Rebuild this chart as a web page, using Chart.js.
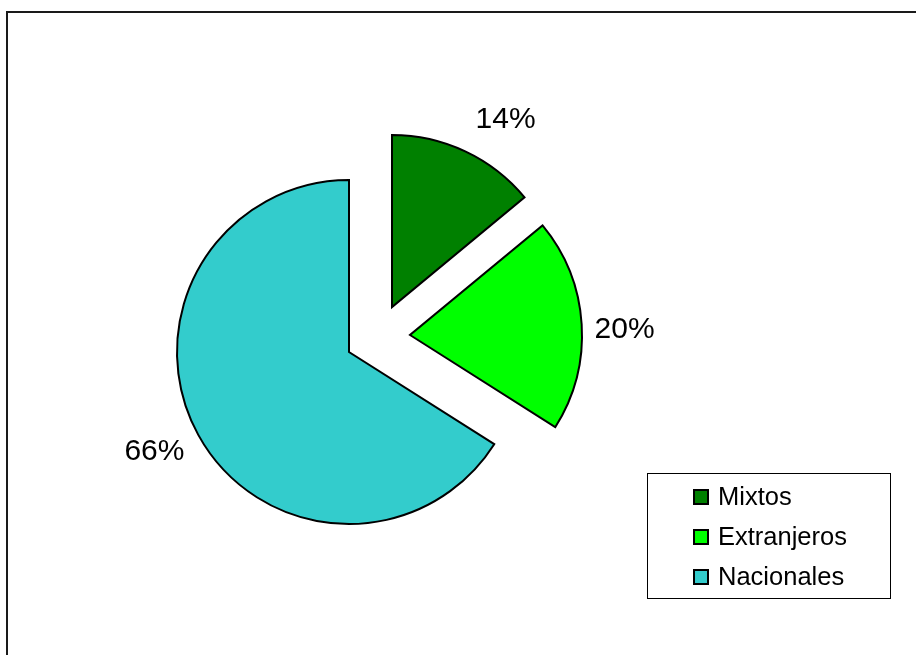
<!DOCTYPE html>
<html>
<head>
<meta charset="utf-8">
<script src="https://cdn.jsdelivr.net/npm/chart.js@4"></script>
<style>
  html, body { margin: 0; padding: 0; background: #fff; }
  .wrap { position: relative; width: 916px; height: 655px; overflow: hidden; }
  .frame { position: absolute; left: 6px; top: 11px; width: 960px; height: 700px;
           border-left: 2px solid #1a1a1a; border-top: 2px solid #1a1a1a; }
  canvas { position: absolute; left: 0; top: 0; }
</style>
</head>
<body>
<div class="wrap">
  <div class="frame"></div>
  <canvas id="pie" width="916" height="655"></canvas>
</div>
<script>
const categories = ['Mixtos', 'Extranjeros', 'Nacionales'];
const shares = [14, 20, 66];
const colors = ['#008000', '#00ff00', '#33cccc'];

// pull the first two slices out of the pie (dx, dy in px)
const explode = [[43, -45], [61, -17], [0, 0]];
const labelNudge = [[19, -4], [-7, 7], [0, 2]];

const explodePlugin = {
  id: 'explode',
  afterDatasetsUpdate(chart) {
    const meta = chart.getDatasetMeta(0);
    meta.data.forEach((arc, i) => {
      const [dx, dy] = explode[i];
      arc.x += dx;
      arc.y += dy;
    });
  },
};

const percentLabels = {
  id: 'percentLabels',
  afterDatasetsDraw(chart) {
    const { ctx } = chart;
    const meta = chart.getDatasetMeta(0);
    const values = chart.data.datasets[0].data;
    const total = values.reduce((a, b) => a + b, 0);
    ctx.save();
    ctx.font = '30px "Liberation Sans", Arial, sans-serif';
    ctx.fillStyle = '#000';
    ctx.textAlign = 'center';
    ctx.textBaseline = 'middle';
    meta.data.forEach((arc, i) => {
      const { x, y, startAngle, endAngle, outerRadius } = arc.getProps(['x', 'y', 'startAngle', 'endAngle', 'outerRadius'], true);
      const mid = (startAngle + endAngle) / 2;
      const ux = Math.cos(mid);
      const uy = Math.sin(mid);
      const text = Math.round(values[i] / total * 100) + '%';
      const w = ctx.measureText(text).width;
      const h = 22;
      const d = outerRadius + 20;
      const cx = x + ux * d + ux * w / 2 + labelNudge[i][0];
      const cy = y + uy * d + uy * h / 2 + labelNudge[i][1];
      ctx.fillText(text, cx, cy);
    });
    ctx.restore();
  },
};

const boxLegend = {
  id: 'boxLegend',
  afterDraw(chart) {
    const { ctx } = chart;
    const ds = chart.data.datasets[0];
    ctx.save();
    ctx.strokeStyle = '#000';
    ctx.lineWidth = 1;
    ctx.strokeRect(647.5, 473.5, 243, 125);
    ctx.font = '25.5px "Liberation Sans", Arial, sans-serif';
    ctx.textBaseline = 'middle';
    ctx.textAlign = 'left';
    chart.data.labels.forEach((label, i) => {
      const cy = 497 + i * 40;
      ctx.fillStyle = ds.backgroundColor[i];
      ctx.fillRect(694, cy - 7, 14, 14);
      ctx.lineWidth = 2;
      ctx.strokeRect(694, cy - 7, 14, 14);
      ctx.fillStyle = '#000';
      ctx.fillText(label, 718, cy + 1);
    });
    ctx.restore();
  },
};

new Chart(document.getElementById('pie'), {
  type: 'pie',
  data: {
    labels: categories,
    datasets: [{
      data: shares,
      backgroundColor: colors,
      borderColor: '#000',
      borderWidth: 2,
      borderJoinStyle: 'miter',
    }],
  },
  options: {
    responsive: false,
    animation: false,
    layout: { padding: { left: 176, top: 179, right: 394, bottom: 130 } },
    plugins: {
      legend: { display: false },
      tooltip: { enabled: false },
    },
  },
  plugins: [explodePlugin, percentLabels, boxLegend],
});
</script>
</body>
</html>
